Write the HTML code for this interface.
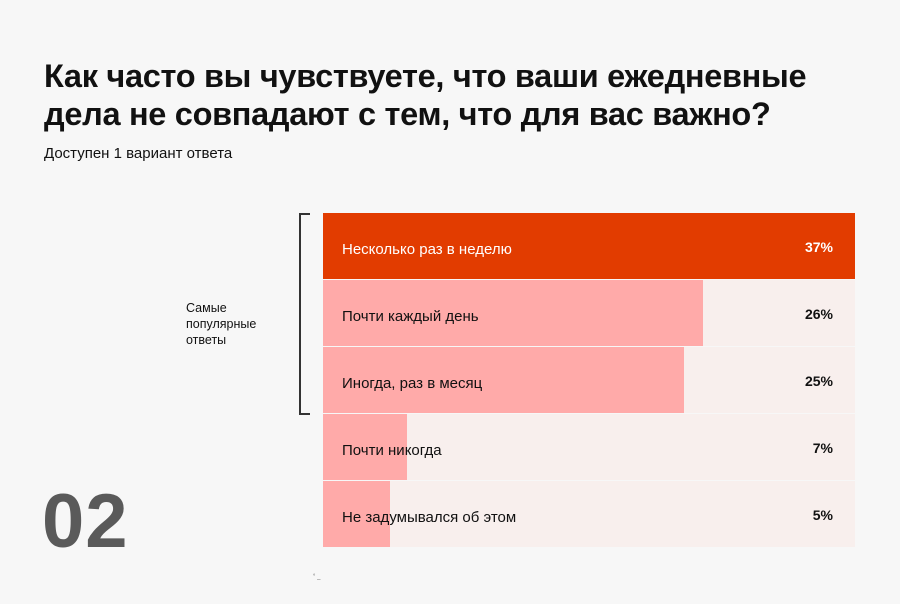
<!DOCTYPE html>
<html><head><meta charset="utf-8"><style>
body{margin:0;width:900px;height:604px;background:#f7f7f7;font-family:"Liberation Sans",sans-serif;position:relative;overflow:hidden;color:#111}
.t{position:absolute;left:44px;top:57px;font-size:32.5px;font-weight:bold;line-height:38px;letter-spacing:-0.3px}
.s{position:absolute;left:44px;top:145px;font-size:15px}
.n{position:absolute;left:42px;top:478px;font-size:76px;font-weight:bold;color:#5a5a5a;letter-spacing:1px}
.row{position:absolute;left:323px;width:532px;height:66px;background:#f8efed}
.bar{position:absolute;left:0;top:0;height:66px;background:#ffaaa9}
.lab{position:absolute;left:19px;top:28px;font-size:15px}
.pct{position:absolute;right:22px;top:26px;font-size:14px;font-weight:bold}
.br{position:absolute;left:299px;top:213px;width:9px;height:198px;border:2px solid #333;border-right:none}
.g{position:absolute;left:186px;top:300px;font-size:12.5px;line-height:16px}
</style></head><body>
<div class="t">Как часто вы чувствуете, что ваши ежедневные<br>дела не совпадают с тем, что для вас важно?</div>
<div class="s">Доступен 1 вариант ответа</div>
<div class="br"></div>
<div class="g">Самые<br>популярные<br>ответы</div>
<div class="row" style="top:213px;background:#e23c00"><div class="lab" style="color:#fff">Несколько раз в неделю</div><div class="pct" style="color:#fff">37%</div></div>
<div class="row" style="top:280px"><div class="bar" style="width:380px"></div><div class="lab">Почти каждый день</div><div class="pct">26%</div></div>
<div class="row" style="top:347px"><div class="bar" style="width:361px"></div><div class="lab">Иногда, раз в месяц</div><div class="pct">25%</div></div>
<div class="row" style="top:414px"><div class="bar" style="width:84px"></div><div class="lab">Почти никогда</div><div class="pct">7%</div></div>
<div class="row" style="top:481px"><div class="bar" style="width:67px"></div><div class="lab">Не задумывался об этом</div><div class="pct">5%</div></div>
<div class="n">02</div>
<div style="position:absolute;left:313px;top:574px;font-size:6px;color:#666">° _</div>
</body></html>
